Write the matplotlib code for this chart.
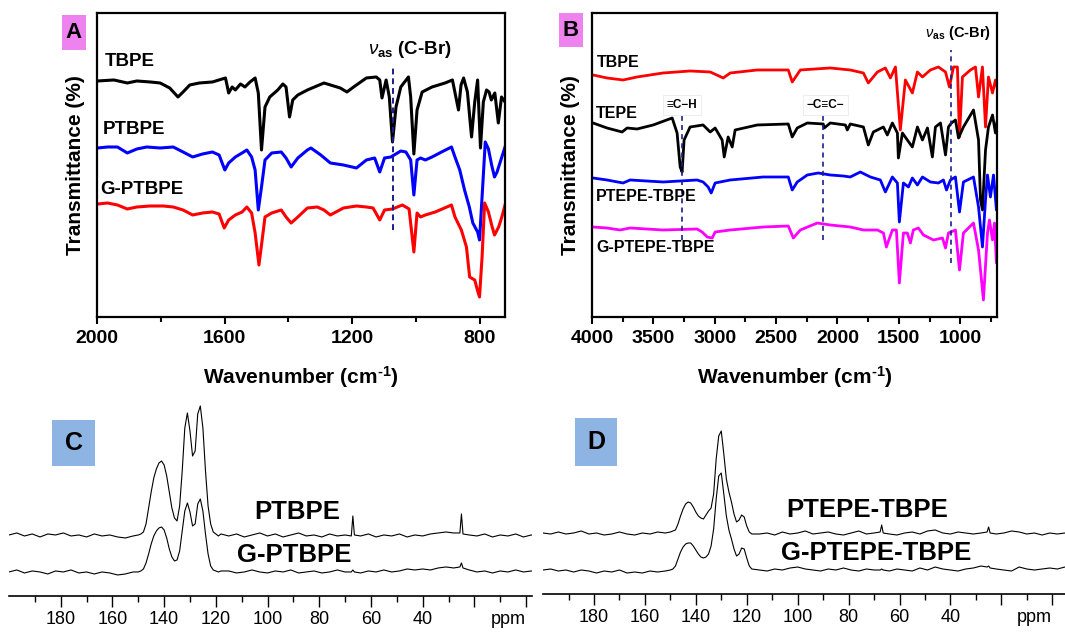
import matplotlib
matplotlib.use('Agg')
import matplotlib.pyplot as plt
from matplotlib.patches import Rectangle
from matplotlib.transforms import offset_copy

plt.rcParams['font.family'] = ['Liberation Sans', 'DejaVu Sans']
plt.rcParams['mathtext.fontset'] = 'custom'
plt.rcParams['mathtext.rm'] = 'Liberation Sans:bold'
plt.rcParams['mathtext.it'] = 'Liberation Sans:italic'
plt.rcParams['mathtext.bf'] = 'Liberation Sans:bold'

# ---------------- panel A: FTIR 2000-720 cm-1 ----------------
a_tbpe_wn = [1998, 1947, 1905, 1875, 1833, 1802, 1772, 1746, 1730, 1709, 1679, 1638, 1597, 1587,
             1576, 1566, 1550, 1536, 1520, 1504, 1494, 1484, 1473, 1458, 1433, 1417, 1407, 1396,
             1386, 1370, 1340, 1288, 1237, 1216, 1195, 1155, 1124, 1113, 1106, 1093, 1083, 1073,
             1062, 1047, 1023, 1016, 1006, 996, 980, 949, 908, 885, 866, 858, 850, 838, 825, 815,
             806, 797, 788, 778, 770, 763, 752, 741, 731, 720]
a_tbpe_t = [236, 237, 234, 236, 235, 234, 229, 220, 225, 232, 234, 235, 239, 224,
            230, 227, 233, 230, 235, 239, 224, 167, 210, 220, 227, 233, 230, 200,
            217, 222, 227, 234, 229, 225, 230, 239, 240, 237, 219, 237, 220, 175,
            210, 230, 240, 220, 163, 207, 225, 230, 234, 237, 207, 232, 239, 225, 180, 215,
            237, 169, 215, 227, 225, 217, 224, 194, 220, 215]

a_ptbpe_wn = [1998, 1967, 1936, 1905, 1875, 1844, 1802, 1761, 1730, 1700, 1669, 1638, 1617, 1599,
              1587, 1566, 1545, 1530, 1515, 1504, 1494, 1484, 1473, 1452, 1422, 1407, 1391, 1370,
              1340, 1329, 1298, 1268, 1227, 1186, 1155, 1129, 1113, 1098, 1078, 1047, 1031, 1016,
              1006, 996, 985, 970, 949, 919, 888, 877, 862, 847, 832, 821, 806, 800, 792, 782,
              772, 762, 753, 745, 735, 720]
a_ptbpe_t = [169, 170, 170, 164, 168, 170, 169, 170, 165, 160, 163, 165, 162, 147,
             154, 160, 164, 167, 160, 147, 107, 130, 157, 164, 165, 159, 150, 159,
             167, 169, 162, 154, 152, 149, 157, 159, 145, 159, 160, 166, 165, 157,
             122, 157, 159, 157, 160, 165, 170, 160, 147, 127, 110, 94, 85, 77, 120, 175,
             168, 152, 140, 145, 155, 170]

a_gptbpe_wn = [1998, 1967, 1936, 1905, 1875, 1833, 1792, 1761, 1730, 1700, 1669, 1638, 1617, 1601,
               1587, 1566, 1545, 1530, 1515, 1504, 1492, 1482, 1473, 1452, 1422, 1407, 1391, 1370,
               1340, 1309, 1288, 1268, 1227, 1186, 1155, 1134, 1113, 1098, 1073, 1042, 1021, 1006,
               996, 985, 970, 939, 888, 877, 857, 841, 831, 815, 805, 800, 792, 784, 772, 762,
               753, 740, 730, 720]
a_gptbpe_t = [113, 114, 112, 108, 110, 111, 111, 110, 107, 102, 104, 105, 103, 89,
              97, 102, 105, 110, 104, 84, 52, 77, 100, 104, 107, 100, 94, 100,
              109, 110, 107, 102, 109, 111, 110, 109, 97, 107, 108, 112, 108, 65,
              104, 100, 102, 105, 112, 100, 87, 70, 40, 37, 25, 20, 60, 114, 105, 92,
              82, 90, 100, 112]

# ---------------- panel B: FTIR 4000-700 cm-1 ----------------
b_tbpe_wn = [3992, 3878, 3747, 3633, 3421, 3201, 3037, 2931, 2874, 2654, 2401, 2369, 2303, 2059,
             1896, 1789, 1749, 1675, 1610, 1569, 1528, 1488, 1447, 1390, 1349, 1308, 1243, 1178,
             1120, 1088, 1055, 1023, 1006, 982, 917, 876, 851, 819, 794, 770, 737, 713, 700]
b_tbpe_t = [242, 239, 237, 240, 244, 246, 245, 239, 244, 247, 247, 235, 247, 249,
            247, 244, 234, 245, 249, 239, 250, 187, 237, 224, 245, 240, 247, 250,
            245, 230, 250, 250, 180, 240, 247, 250, 220, 250, 190, 240, 224, 237, 230]

b_tepe_wn = [3992, 3878, 3755, 3714, 3633, 3502, 3347, 3307, 3282, 3266, 3250, 3201, 3095, 3037,
             2997, 2940, 2923, 2891, 2858, 2834, 2654, 2401, 2369, 2328, 2246, 2116, 2108, 2059,
             1936, 1920, 1896, 1789, 1749, 1708, 1626, 1594, 1553, 1512, 1504, 1471, 1431, 1390,
             1349, 1308, 1267, 1227, 1202, 1161, 1120, 1096, 1072, 1039, 1014, 974, 892, 851,
             835, 819, 794, 770, 737, 713, 700]
b_tepe_t = [194, 189, 185, 189, 188, 192, 199, 184, 150, 145, 177, 190, 192, 185,
            189, 177, 160, 180, 170, 187, 192, 193, 180, 189, 194, 193, 189, 194,
            192, 187, 193, 190, 172, 185, 190, 182, 194, 184, 159, 184, 177, 170,
            190, 177, 189, 160, 190, 194, 162, 190, 194, 197, 179, 190, 207, 177,
            117, 107, 167, 190, 202, 184, 195]

b_ptepe_wn = [3992, 3878, 3747, 3690, 3421, 3144, 3095, 3054, 3029, 2997, 2874, 2605, 2401, 2369,
              2328, 2246, 2157, 2059, 1953, 1896, 1814, 1732, 1651, 1610, 1553, 1512, 1496, 1463,
              1422, 1390, 1349, 1308, 1243, 1178, 1137, 1112, 1080, 1039, 1006, 974, 892, 851,
              819, 794, 778, 754, 729, 705, 700]
b_ptepe_t = [139, 137, 134, 137, 135, 137, 135, 130, 124, 134, 137, 140, 140, 127,
             135, 142, 144, 142, 141, 140, 145, 140, 137, 125, 140, 134, 95, 134,
             130, 139, 132, 140, 135, 134, 137, 127, 137, 140, 105, 135, 140, 110,
             70, 117, 142, 120, 142, 107, 115]

b_gptepe_wn = [3992, 3878, 3772, 3690, 3421, 3144, 3103, 3062, 3021, 2997, 2874, 2605, 2401, 2360,
               2303, 2165, 2059, 1896, 1789, 1675, 1626, 1602, 1553, 1520, 1496, 1463, 1431, 1406,
               1382, 1341, 1300, 1218, 1145, 1120, 1096, 1039, 1006, 974, 892, 851, 811, 778,
               762, 737, 721, 705, 700]
b_gptepe_t = [90, 89, 87, 89, 87, 88, 85, 80, 79, 85, 87, 90, 91, 79,
              87, 94, 92, 90, 87, 87, 84, 70, 87, 87, 34, 84, 84, 74,
              87, 89, 82, 77, 79, 69, 84, 87, 47, 84, 94, 67, 17, 84,
              97, 77, 94, 54, 60]

# ---------------- panels C and D: 13C solid-state NMR ----------------
nmr_ppm = [200, 197, 194, 191, 188, 185, 182, 179, 176, 173, 170, 167, 164, 161, 158, 155, 152,
           150, 149, 148, 147, 146, 145, 144, 143, 142, 141, 140, 139, 138, 137, 136, 135, 134,
           133, 132, 131, 130, 129, 128, 127, 126, 125, 124, 123, 122, 121, 120, 119, 118,
           115, 112, 109, 106, 103, 100, 97, 94, 91, 88, 85, 82, 79, 76, 73, 70, 67.6, 67, 66.4,
           64, 61, 58, 55, 52, 49, 46, 43, 40, 37, 34, 31, 28, 25.6, 25, 24.4,
           22, 19, 16, 13, 10, 7, 4, 1, -2, -5]

c_ptbpe = [61, 63, 60, 62, 59, 62, 61, 63, 60, 61, 59, 62, 60, 61, 59, 58, 60,
           61, 62, 64, 72, 88, 104, 118, 127, 133, 135, 131, 120, 104, 88, 78, 75, 90,
           125, 168, 183, 165, 140, 145, 182, 190, 168, 125, 90, 72, 64, 62, 60, 62,
           60, 62, 59, 61, 63, 60, 62, 59, 61, 63, 60, 61, 59, 62, 60, 61, 60, 80, 61,
           60, 62, 59, 61, 60, 62, 59, 61, 60, 62, 63, 64, 63, 63, 82, 62,
           61, 60, 62, 59, 61, 60, 62, 59, 61, 60]
c_gptbpe = [24, 26, 23, 25, 24, 22, 25, 24, 26, 23, 24, 22, 24, 23, 21, 22, 24,
            24, 25, 27, 33, 42, 52, 60, 65, 68, 69, 66, 58, 47, 39, 35, 36, 45,
            65, 85, 93, 84, 70, 72, 92, 97, 85, 62, 42, 30, 26, 25, 24, 25,
            25, 23, 24, 26, 24, 23, 25, 24, 26, 23, 24, 25, 23, 24, 26, 24, 24, 26, 24,
            23, 25, 24, 26, 24, 25, 27, 26, 27, 26, 28, 29, 28, 29, 33, 28,
            26, 24, 25, 23, 25, 24, 26, 24, 25, 24]

d_ptepe = [61, 60, 62, 60, 61, 63, 60, 61, 59, 60, 62, 60, 59, 61, 60, 62, 61,
           62, 63, 64, 70, 78, 85, 90, 92, 91, 87, 82, 78, 76, 75, 79, 83, 86,
           100, 135, 158, 163, 140, 115, 102, 92, 80, 72, 74, 79, 77, 68, 62, 60,
           60, 61, 59, 62, 60, 61, 63, 60, 61, 62, 60, 59, 61, 63, 60, 61, 62, 69, 61,
           60, 59, 61, 62, 60, 63, 64, 61, 60, 62, 61, 60, 61, 62, 67, 61,
           60, 61, 63, 62, 60, 61, 59, 61, 60, 61]
d_gptepe = [24, 25, 23, 24, 22, 24, 23, 21, 23, 22, 24, 21, 22, 21, 23, 22, 23,
            24, 25, 28, 35, 42, 47, 50, 51, 51, 48, 44, 40, 37, 36, 37, 40, 48,
            65, 95, 118, 121, 100, 78, 64, 55, 45, 38, 40, 46, 45, 36, 28, 25,
            24, 23, 25, 24, 26, 27, 25, 24, 23, 25, 24, 26, 24, 23, 25, 24, 24, 25, 24,
            23, 25, 24, 23, 26, 24, 27, 25, 24, 23, 25, 26, 28, 27, 28, 26,
            25, 24, 23, 27, 25, 24, 25, 26, 25, 27]

fig = plt.figure(figsize=(10.65, 6.33), dpi=100)


def ir_axes(rect, xlim, major, minor):
    ax = fig.add_axes(rect)
    ax.set_xlim(*xlim)
    ax.set_ylim(0, 304)
    ax.set_yticks([])
    ax.set_xticks(major)
    ax.set_xticks(minor, minor=True)
    ax.tick_params(axis='x', which='major', direction='out', length=5, width=1.5,
                   labelsize=14, pad=4)
    ax.tick_params(axis='x', which='minor', direction='out', length=3.5, width=1.5)
    for lab in ax.get_xticklabels():
        lab.set_fontweight('bold')
    for s in ax.spines.values():
        s.set_linewidth(1.6)
    ax.set_xlabel(r'Wavenumber (cm$^{\text{-1}}$)', fontsize=15, fontweight='bold', labelpad=13)
    ax.set_ylabel('Transmittance (%)', fontsize=15, fontweight='bold', labelpad=9)
    return ax


def nmr_axes(rect, xlim, ymax):
    ax = fig.add_axes(rect)
    ax.set_xlim(*xlim)
    ax.set_ylim(0, ymax)
    for side in ['left', 'right', 'top']:
        ax.spines[side].set_visible(False)
    ax.spines['bottom'].set_linewidth(1.2)
    ax.set_yticks([])
    ax.set_xticks([180, 160, 140, 120, 100, 80, 60, 40, 20, 0])
    ax.set_xticklabels(['180', '160', '140', '120', '100', '80', '60', '40', '', ''])
    ax.set_xticks([190, 170, 150, 130, 110, 90, 70, 50, 30, 10], minor=True)
    ax.tick_params(axis='x', which='major', direction='out', length=8, width=1.0,
                   labelsize=13, pad=3)
    ax.tick_params(axis='x', which='minor', direction='out', length=4.5, width=1.0)
    ax.patch.set_alpha(0)
    trans = offset_copy(ax.get_xaxis_transform(), fig=fig, y=-11, units='points')
    ax.text(7, 0, 'ppm', transform=trans, ha='center', va='top', fontsize=13)
    return ax


# ---- A ----
axA = ir_axes([0.0911, 0.4992, 0.3831, 0.4803], (2000, 720), [2000, 1600, 1200, 800], [1800, 1400, 1000])
axA.plot(a_tbpe_wn, a_tbpe_t, color='black', lw=2.2)
axA.plot(a_ptbpe_wn, a_ptbpe_t, color='#0000ff', lw=2.2)
axA.plot(a_gptbpe_wn, a_gptbpe_t, color='#ff0000', lw=2.2)
axA.plot([1071, 1071], [87, 250], color='#1c1c8c', lw=1.4, ls=(0, (3, 2)))
lab_a = dict(fontsize=13.5, fontweight='bold', ha='left', va='center')
axA.text(1975, 255, 'TBPE', **lab_a)
axA.text(1981, 187, 'PTBPE', **lab_a)
axA.text(1990, 127, 'G-PTBPE', **lab_a)
axA.text(1150, 267, r'$\nu_{\mathrm{as}}$ (C-Br)', fontsize=13.5, fontweight='bold', ha='left', va='center')

# ---- B ----
axB = ir_axes([0.5559, 0.4992, 0.3803, 0.4803], (4000, 700),
              [4000, 3500, 3000, 2500, 2000, 1500, 1000], [3750, 3250, 2750, 2250, 1750, 1250, 750])
axB.plot(b_tbpe_wn, b_tbpe_t, color='#ff0000', lw=2.0)
axB.plot(b_tepe_wn, b_tepe_t, color='black', lw=2.0)
axB.plot(b_ptepe_wn, b_ptepe_t, color='#0000ff', lw=2.0)
axB.plot(b_gptepe_wn, b_gptepe_t, color='#ff00ff', lw=2.0)
for wn, y0, y1 in [(3266, 77, 207), (2116, 77, 205), (1072, 54, 267)]:
    axB.plot([wn, wn], [y0, y1], color='#1c1c8c', lw=1.2, ls=(0, (3, 2.5)))
lab_b = dict(fontsize=11.5, fontweight='bold', ha='left', va='center')
axB.text(3959, 254, 'TBPE', **lab_b)
axB.text(3967, 203, 'TEPE', **lab_b)
axB.text(3967, 120, 'PTEPE-TBPE', **lab_b)
axB.text(3967, 69, 'G-PTEPE-TBPE', **lab_b)
box = dict(boxstyle='square,pad=0.3', fc='white', ec='#eeeeee', lw=0.8)
axB.text(3266, 212, '\u2261C\u2212H', fontsize=8.5, fontweight='bold', ha='center', va='center', bbox=box)
axB.text(2100, 212, '\u2212C\u2261C\u2212', fontsize=8.5, fontweight='bold', ha='center', va='center', bbox=box)
axB.text(1290, 284, r'$\nu_{\mathrm{as}}$ (C-Br)', fontsize=10.5, fontweight='bold', ha='left', va='center')

# ---- C ----
axC = nmr_axes([0.00845, 0.0585, 0.4911, 0.3175], (200, -2.3), 201)
axC.plot(nmr_ppm, c_ptbpe, color='black', lw=0.8)
axC.plot(nmr_ppm, c_gptbpe, color='black', lw=0.8)
axC.text(88.6, 84, 'PTBPE', fontsize=18.5, fontweight='bold', ha='center', va='center')
axC.text(89.6, 41, 'G-PTBPE', fontsize=18.5, fontweight='bold', ha='center', va='center')

# ---- D ----
axD = nmr_axes([0.5099, 0.0616, 0.4901, 0.3144], (200, -5), 199)
axD.plot(nmr_ppm, d_ptepe, color='black', lw=0.8)
axD.plot(nmr_ppm, d_gptepe, color='black', lw=0.8)
axD.text(72.7, 84, 'PTEPE-TBPE', fontsize=18.5, fontweight='bold', ha='center', va='center')
axD.text(69, 41, 'G-PTEPE-TBPE', fontsize=18.5, fontweight='bold', ha='center', va='center')

# ---- panel letters ----
W, H = 1065.0, 633.0
for letter, x0, y0, w, h, col, fs in [('A', 62, 15, 24, 35, '#ee82ee', 16),
                                      ('B', 559, 13, 24, 34, '#ee82ee', 16),
                                      ('C', 52, 420, 43, 46, '#8db4e2', 18),
                                      ('D', 575, 418, 42, 48, '#8db4e2', 18)]:
    fig.patches.append(Rectangle((x0 / W, 1 - (y0 + h) / H), w / W, h / H,
                                 transform=fig.transFigure, fc=col, ec='none', zorder=5))
    fig.text((x0 + w / 2) / W, 1 - (y0 + h / 2) / H, letter, fontsize=fs, fontweight='bold',
             ha='center', va='center', zorder=6)

fig.savefig('out.png', dpi=100)
